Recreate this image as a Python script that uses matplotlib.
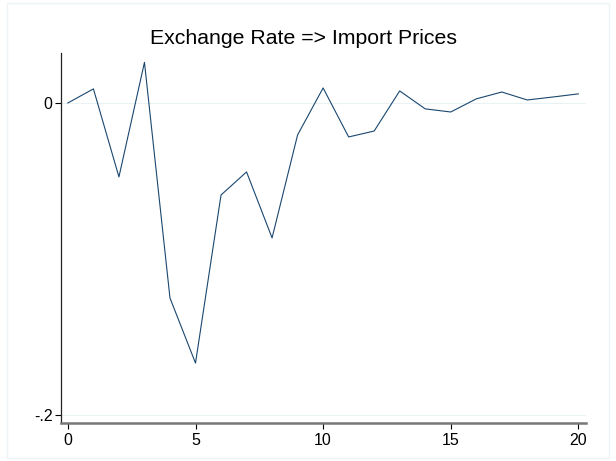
import matplotlib
matplotlib.use("Agg")
import matplotlib.pyplot as plt
from matplotlib.patches import Rectangle

# impulse response values
steps = list(range(21))
response = [0.0, 0.009, -0.0474, 0.026, -0.125, -0.1667, -0.059, -0.0442,
            -0.0865, -0.0205, 0.0096, -0.0218, -0.018, 0.0077, -0.0038,
            -0.0058, 0.0026, 0.007, 0.0019, 0.0038, 0.0058]
yticks = [-0.2, 0]
yticklabels = ["-.2", "0"]
xticks = [0, 5, 10, 15, 20]

plt.rcParams['font.family'] = ['Liberation Sans', 'DejaVu Sans']

fig = plt.figure(figsize=(6.16, 4.61), dpi=100)
fig.patches.append(Rectangle((7 / 616, 3 / 461), 602 / 616, 455 / 461,
                             transform=fig.transFigure, fill=False,
                             edgecolor='#eef4f5', linewidth=1.0))
ax = fig.add_axes([61 / 616, 38 / 461, 525 / 616, 370 / 461])

ax.plot(steps, response, color='#1a476f', linewidth=0.8)

ax.set_xlim(-0.27, 20.3)
ax.set_ylim(-0.2051, 0.032)
ax.set_yticks(yticks)
ax.set_yticklabels(yticklabels)
ax.set_xticks(xticks)
for y in yticks:
    ax.axhline(y, color='#eaf2f3', linewidth=0.8, zorder=0)

ax.spines['top'].set_visible(False)
ax.spines['right'].set_visible(False)
ax.spines['left'].set_color('#222222')
ax.spines['left'].set_linewidth(0.9)
ax.spines['bottom'].set_color('#777777')
ax.spines['bottom'].set_linewidth(1.8)
ax.tick_params(axis='both', direction='out', length=4, width=0.8,
               labelsize=11.5, colors='black')
ax.tick_params(axis='y', pad=2)

fig.text(303 / 616, 1 - 38 / 461, 'Exchange Rate => Import Prices',
         fontsize=15.3, ha='center', va='center')

fig.savefig('out.png', dpi=100)
